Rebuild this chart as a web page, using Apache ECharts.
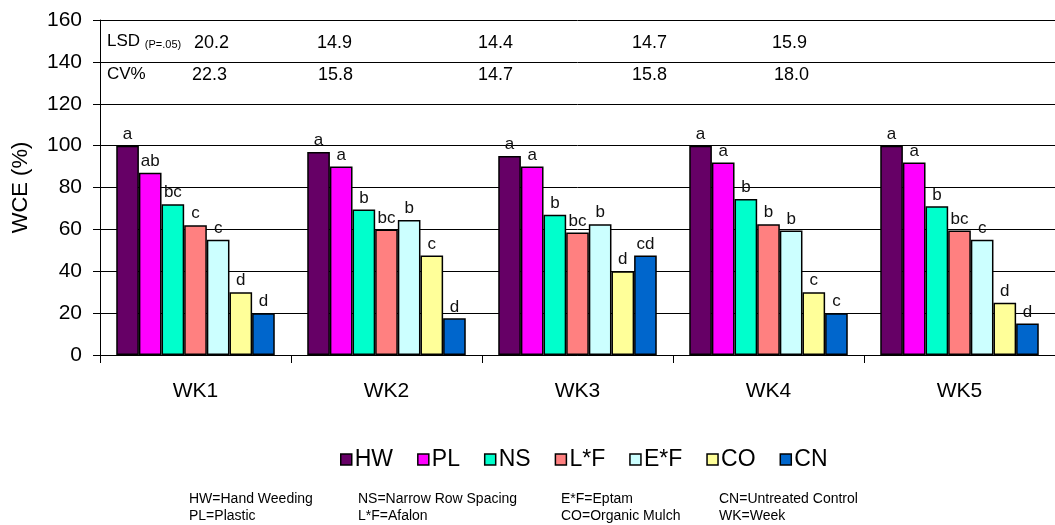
<!DOCTYPE html>
<html>
<head>
<meta charset="utf-8">
<script src="https://cdn.jsdelivr.net/npm/echarts@6/dist/echarts.min.js"></script>
<style>
  html, body { margin: 0; padding: 0; background: #fff; }
  #main { width: 1055px; height: 525px; }
</style>
</head>
<body>
<div id="main"></div>
<script>
// categories and treatments
var weeks = ["WK1", "WK2", "WK3", "WK4", "WK5"];
var treatments = ["HW", "PL", "NS", "L*F", "E*F", "CO", "CN"];
var colors = ["#660066", "#FF00FF", "#00FFCC", "#FF8080", "#CCFFFF", "#FFFF99", "#0066CC"];

// WCE (%) per treatment, one value per week
var hw = [100, 97, 95, 100, 100];
var pl = [87, 90, 90, 92, 92];
var ns = [72, 69.5, 67, 74.5, 71];
var lf = [62, 60, 58.5, 62.5, 59.5];
var ef = [55, 64.5, 62.5, 59.5, 55];
var co = [30, 47.5, 40, 30, 25];
var cn = [20, 17.5, 47.5, 20, 15];

// mean separation letters per treatment, one per week
var hwLet = ["a", "a", "a", "a", "a"];
var plLet = ["ab", "a", "a", "a", "a"];
var nsLet = ["bc", "b", "b", "b", "b"];
var lfLet = ["c", "bc", "bc", "b", "bc"];
var efLet = ["c", "b", "b", "b", "c"];
var coLet = ["d", "c", "d", "c", "d"];
var cnLet = ["d", "d", "cd", "c", "d"];

// table rows above the bars
var lsd = ["20.2", "14.9", "14.4", "14.7", "15.9"];
var cv = ["22.3", "15.8", "14.7", "15.8", "18.0"];

var values = [hw, pl, ns, lf, ef, co, cn];
var letters = [hwLet, plLet, nsLet, lfLet, efLet, coLet, cnLet];

var font = "'Liberation Sans', Arial, sans-serif";

var series_list = [];
treatments.forEach(function (name, i) {
  series_list.push({
    name: name,
    type: "bar",
    data: values[i],
    barGap: 0,
    barCategoryGap: "17%",
    itemStyle: { color: colors[i], borderColor: "#000", borderWidth: 1.5 },
    label: {
      show: true,
      position: "top",
      distance: 3,
      color: "#111",
      fontFamily: font,
      fontSize: 17,
      formatter: function (p) { return letters[i][p.dataIndex]; }
    },
    emphasis: { disabled: true }
  });
});

var lsdX = [194, 317, 478, 632, 772];
var cvX = [192, 318, 478, 632, 774];
var graphics = [{
  type: "text", left: 107, top: 33,
  style: {
    text: "{a|LSD} {b|(P=.05)}", fill: "#000", font: "17px " + font,
    rich: { a: { fontSize: 17, fontFamily: font }, b: { fontSize: 11, fontFamily: font, padding: [6, 0, 0, 0] } }
  }
}, {
  type: "text", left: 107, top: 66,
  style: { text: "CV%", fill: "#000", font: "17px " + font }
}];
lsd.forEach(function (v, i) {
  graphics.push({ type: "text", left: lsdX[i], top: 34, style: { text: v, fill: "#000", font: "18px " + font } });
});
cv.forEach(function (v, i) {
  graphics.push({ type: "text", left: cvX[i], top: 66, style: { text: v, fill: "#000", font: "18px " + font } });
});

// footnote
var notes = [
  ["HW=Hand Weeding", 189, 492], ["PL=Plastic", 189, 509],
  ["NS=Narrow Row Spacing", 358, 492], ["L*F=Afalon", 358, 509],
  ["E*F=Eptam", 561, 492], ["CO=Organic Mulch", 561, 509],
  ["CN=Untreated Control", 719, 492], ["WK=Week", 719, 509]
];
notes.forEach(function (n) {
  graphics.push({ type: "text", left: n[1], top: n[2], style: { text: n[0], fill: "#000", font: "14px " + font } });
});

var myChart = echarts.init(document.getElementById("main"));
myChart.setOption({
  animation: false,
  textStyle: { fontFamily: font },
  grid: { left: 100, right: -6, top: 20, bottom: 170 },
  legend: {
    data: treatments,
    left: 335, top: 443,
    icon: "rect",
    itemWidth: 11, itemHeight: 11,
    itemGap: 24,
    itemStyle: { borderColor: "#000", borderWidth: 1.5 },
    textStyle: { fontSize: 23, color: "#000", fontFamily: font, padding: [0, 0, 0, -2] }
  },
  xAxis: {
    type: "category",
    data: weeks,
    axisLine: { lineStyle: { color: "#000", width: 1 } },
    axisTick: { show: true, length: 8, lineStyle: { color: "#000" } },
    axisLabel: { color: "#000", fontSize: 21, margin: 26, fontFamily: font }
  },
  yAxis: {
    type: "value",
    min: 0, max: 160, interval: 20,
    name: "WCE (%)",
    nameLocation: "middle",
    nameGap: 68,
    nameTextStyle: { fontSize: 22, color: "#000", fontFamily: font },
    axisLine: { show: true, lineStyle: { color: "#000" } },
    axisTick: { show: true, length: 7, lineStyle: { color: "#000" } },
    axisLabel: { color: "#000", fontSize: 21, margin: 18, fontFamily: font },
    splitLine: { lineStyle: { color: "#000", width: 1 } }
  },
  graphic: graphics,
  series: series_list
});
</script>
</body>
</html>
